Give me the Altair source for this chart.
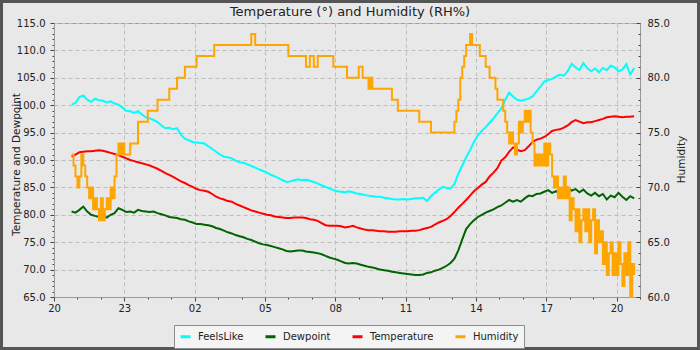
import altair as alt
import pandas as pd

series_names = ["FeelsLike", "Dewpoint", "Temperature", "Humidity"]
series_colors = ["#00ffff", "#006400", "#ff0000", "#ffa500"]

start_time = "2023-07-20 20:45"   # first sample; 10-minute samples for temps, 5-minute for humidity

feels_like = [
    100.1, 100.4, 101.5, 101.8, 101.0, 100.6, 101.2, 100.9, 100.8, 100.5,
    100.7, 100.3, 100.1, 99.6, 99.0, 98.9, 98.6, 98.9, 98.3, 97.8,
    97.6, 97.3, 96.9, 96.3, 95.8, 95.9, 95.6, 95.8, 94.6, 93.9,
    93.6, 93.3, 93.2, 93.1, 93.0, 92.5, 92.0, 91.5, 91.0, 90.6,
    90.5, 90.3, 89.9, 89.6, 89.5, 89.2, 88.9, 88.6, 88.3, 88.0,
    87.7, 87.3, 87.0, 86.7, 86.3, 86.0, 86.1, 86.3, 86.5, 86.3,
    86.4, 86.2, 86.0, 85.7, 85.4, 85.1, 84.8, 84.5, 84.3, 84.2,
    84.1, 84.3, 84.1, 83.9, 83.8, 83.6, 83.5, 83.4, 83.3, 83.3,
    83.1, 83.0, 82.9, 82.8, 82.8, 82.9, 82.8, 82.9, 83.0, 83.0,
    83.1, 82.5, 83.4, 84.0, 84.6, 85.1, 84.9, 84.8, 85.6, 87.5,
    89.0, 90.5, 91.8, 93.3, 94.5, 95.3, 96.0, 96.8, 97.6, 98.5,
    99.4, 101.0, 102.3, 101.6, 101.0, 100.8, 101.0, 101.2, 101.6, 102.5,
    103.4, 104.3, 104.6, 104.8, 105.2, 105.6, 105.4, 106.2, 107.6, 106.9,
    106.4, 107.7, 106.8, 106.2, 106.7, 106.0, 106.8, 106.4, 107.2, 106.9,
    106.2, 106.5, 107.5, 105.6, 106.8,
]

dewpoint = [
    80.6, 80.4, 80.9, 81.5, 80.6, 80.0, 79.8, 79.6, 79.7, 79.5,
    80.0, 80.3, 81.2, 80.9, 80.5, 80.6, 80.4, 80.9, 80.7, 80.6,
    80.5, 80.6, 80.3, 80.1, 79.9, 79.6, 79.5, 79.4, 79.2, 79.1,
    78.8, 78.6, 78.3, 78.3, 78.2, 78.1, 77.9, 77.6, 77.4, 77.1,
    76.8, 76.6, 76.3, 76.1, 75.9, 75.6, 75.4, 75.1, 74.8, 74.6,
    74.5, 74.3, 74.1, 73.9, 73.7, 73.4, 73.3, 73.4, 73.5, 73.5,
    73.3, 73.2, 73.1, 73.0, 72.8, 72.5, 72.2, 72.0, 71.8, 71.5,
    71.2, 71.1, 71.2, 71.1, 70.9, 70.7, 70.5, 70.4, 70.2, 70.0,
    69.9, 69.8, 69.6, 69.5, 69.4, 69.3, 69.2, 69.1, 69.0, 69.0,
    69.1, 69.4, 69.5, 69.8, 70.0, 70.3, 70.7, 71.2, 72.0, 73.5,
    75.5, 77.4, 78.3, 79.0, 79.6, 80.0, 80.4, 80.7, 81.0, 81.4,
    81.7, 82.2, 82.7, 82.4, 82.7, 82.4, 83.0, 83.5, 83.4, 83.8,
    83.9, 84.2, 84.5, 84.0, 84.3, 83.9, 84.5, 85.0, 84.4, 84.7,
    84.1, 84.6, 83.9, 83.5, 84.0, 83.4, 83.8, 82.8, 83.5, 83.2,
    84.0, 83.3, 82.7, 83.4, 83.0,
]

temperature = [
    90.6, 91.0, 91.4, 91.5, 91.6, 91.6, 91.7, 91.8, 91.7, 91.5,
    91.3, 91.1, 90.9, 90.6, 90.3, 90.0, 89.8, 89.6, 89.4, 89.2,
    89.0, 88.7, 88.4, 88.0, 87.6, 87.3, 86.9, 86.5, 86.1, 85.8,
    85.4, 85.1, 84.7, 84.5, 84.4, 84.2, 83.8, 83.3, 83.0, 82.8,
    82.5, 82.4, 82.0, 81.7, 81.4, 81.1, 80.8, 80.6, 80.4, 80.2,
    80.0, 79.9, 79.7, 79.6, 79.5, 79.4, 79.4, 79.5, 79.5, 79.5,
    79.4, 79.2, 79.1, 78.9, 78.5, 78.1, 78.0, 78.0, 78.0, 77.9,
    77.7, 77.8, 78.0, 77.7, 77.5, 77.3, 77.2, 77.2, 77.1, 77.0,
    77.0, 76.9, 76.9, 76.9, 77.0, 77.0, 77.0, 77.1, 77.1, 77.2,
    77.4, 77.6, 77.8, 78.2, 78.6, 78.9, 79.2, 79.8, 80.5, 81.3,
    82.0, 82.7, 83.5, 84.3, 84.9, 85.5, 86.0, 87.0, 87.7, 88.5,
    89.9, 90.5, 91.5, 92.3, 91.9, 91.6, 91.8, 92.5, 93.3, 93.7,
    93.9, 94.2, 94.7, 95.3, 95.5, 95.6, 95.9, 96.3, 96.9, 97.3,
    97.0, 96.7, 96.9, 96.9, 97.1, 97.3, 97.5, 97.8, 97.9, 98.0,
    97.9, 97.8, 97.9, 97.9, 98.0,
]

humidity = [
    73, 72, 71, 70, 71, 73, 72, 71, 70, 69,
    70, 68, 69, 68, 67, 69, 67, 68, 69, 68,
    70, 69, 71, 73, 74, 73, 74, 73, 73, 73,
    74, 74, 74, 74, 76, 76, 76, 76, 76, 77,
    77, 77, 77, 77, 78, 78, 78, 78, 78, 78,
    79, 79, 79, 79, 80, 80, 80, 80, 81, 81,
    81, 81, 81, 81, 82, 82, 82, 82, 82, 82,
    82, 82, 82, 83, 83, 83, 83, 83, 83, 83,
    83, 83, 83, 83, 83, 83, 83, 83, 83, 83,
    83, 83, 84, 84, 83, 83, 83, 83, 83, 83,
    83, 83, 83, 83, 83, 83, 83, 83, 83, 83,
    83, 82, 82, 82, 82, 82, 82, 82, 82, 82,
    81, 81, 82, 82, 81, 81, 82, 82, 82, 82,
    82, 82, 82, 82, 81, 81, 81, 81, 81, 81,
    81, 80, 80, 80, 80, 80, 80, 81, 81, 80,
    80, 80, 79, 80, 79, 79, 79, 79, 79, 79,
    79, 79, 79, 79, 78, 78, 78, 77, 77, 77,
    77, 77, 77, 77, 77, 77, 77, 77, 76, 76,
    76, 76, 76, 76, 75, 75, 75, 75, 75, 75,
    75, 75, 75, 75, 75, 75, 76, 77, 78, 80,
    81, 82, 83, 83, 84, 83, 83, 83, 83, 82,
    82, 82, 81, 81, 80, 80, 80, 79, 78, 78,
    78, 77, 76, 75, 74, 75, 74, 73, 74, 76,
    75, 76, 77, 76, 77, 75, 74, 72, 73, 72,
    73, 72, 74, 72, 74, 73, 71, 70, 71, 69,
    70, 69, 71, 69, 70, 67, 69, 68, 66, 68,
    65, 67, 68, 66, 68, 65, 67, 68, 64, 67,
    65, 66, 63, 65, 62, 64, 65, 62, 64, 62,
    65, 63, 61, 64, 62, 65, 60, 63, 62,
]

left_ticks = list(range(65, 116))
right_ticks = list(range(60, 86))
hour_ticks = [
    alt.DateTime(year=2023, month=7, date=20 + (20 + h) // 24, hours=(20 + h) % 24)
    for h in range(26)
]

t10 = pd.date_range(start_time, periods=len(temperature), freq="10min")
t5 = pd.date_range(start_time, periods=len(humidity), freq="5min")

temp_df = pd.concat([
    pd.DataFrame({"time": t10, "value": feels_like, "series": "FeelsLike"}),
    pd.DataFrame({"time": t10, "value": dewpoint, "series": "Dewpoint"}),
    pd.DataFrame({"time": t10, "value": temperature, "series": "Temperature"}),
], ignore_index=True)
hum_df = pd.DataFrame({"time": t5, "value": humidity, "series": "Humidity"})

FONT = "DejaVu Sans"
major5 = "datum.value % 5 === 0"

x_axis = alt.Axis(
    values=hour_ticks,
    labelExpr="hours(datum.value) % 3 === 2 ? timeFormat(datum.value, '%H') : ''",
    tickSize={"condition": {"test": "hours(datum.value) % 3 === 2", "value": 4}, "value": 2},
    gridOpacity={"condition": {"test": "hours(datum.value) % 3 === 2", "value": 1}, "value": 0},
    grid=True, gridColor="#bdbdbd", gridDash=[4, 3], gridWidth=1,
    labelOverlap=False, labelFlush=False, labelPadding=2, labelAngle=0,
    title=None,
)
x_enc = alt.X(
    "time:T",
    scale=alt.Scale(domain=[
        alt.DateTime(year=2023, month=7, date=20, hours=20),
        alt.DateTime(year=2023, month=7, date=21, hours=21),
    ]),
    axis=x_axis,
)

color_enc = alt.Color(
    "series:N",
    scale=alt.Scale(domain=series_names, range=series_colors),
    legend=alt.Legend(
        orient="none", legendX=120, legendY=302, direction="horizontal",
        title=None, symbolType="stroke", symbolStrokeWidth=3, symbolSize=100,
        labelFont=FONT, labelFontSize=10, labelColor="#222",
        fillColor="#f4f4f4", strokeColor="#8c8c8c", padding=5,
        columnPadding=15, labelOffset=6,
    ),
)

left_axis = alt.Axis(
    values=left_ticks,
    labelExpr=f"{major5} ? format(datum.value, '.1f') : ''",
    tickSize={"condition": {"test": major5, "value": 4}, "value": 2},
    gridOpacity={"condition": {"test": major5, "value": 1}, "value": 0},
    grid=True, gridColor="#bdbdbd", gridDash=[4, 3], gridWidth=1,
    labelOverlap=False, labelFlush=False, labelPadding=5,
    title="Temperature and Dewpoint", titleX=-38, titleY=141, titleAngle=270,
    titleBaseline="middle", titleAlign="center",
)

temp_lines = alt.Chart(temp_df).mark_line(strokeWidth=2).encode(
    x=x_enc,
    y=alt.Y("value:Q", scale=alt.Scale(domain=[65, 115], nice=False, zero=False), axis=left_axis),
    color=color_enc,
)

hum_scale = alt.Scale(domain=[60, 85], nice=False, zero=False)

hum_line = alt.Chart(hum_df).mark_line(strokeWidth=2, interpolate="step-after").encode(
    x=x_enc,
    y=alt.Y("value:Q", scale=hum_scale, axis=alt.Axis(
        orient="right", values=[60, 65, 70, 75, 80, 85], format=".1f",
        ticks=True, tickSize=0, labelPadding=7, grid=False,
        labelOverlap=False, labelFlush=False,
        title="Humidity", titleAngle=270, titleX=41, titleY=136,
        titleBaseline="middle", titleAlign="center",
    )),
    color=color_enc,
)

hum_ticks = alt.Chart(hum_df).mark_line(strokeOpacity=0).encode(
    x=x_enc,
    y=alt.Y("value:Q", scale=hum_scale, axis=alt.Axis(
        orient="left", offset=-586, values=right_ticks, labels=False,
        domain=False, grid=False, title=None,
        tickSize={"condition": {"test": major5, "value": 4}, "value": 2},
    )),
)

hum_layer = alt.layer(hum_line, hum_ticks)

frame = alt.Chart(pd.DataFrame({"a": [0]})).mark_rect(
    filled=False, stroke="#555555", strokeWidth=3
).encode(
    x=alt.value(-52.5), x2=alt.value(644.5), y=alt.value(-21.5), y2=alt.value(325.5)
)

chart = alt.layer(temp_lines, hum_layer, frame).resolve_scale(
    y="independent"
).properties(
    width=586, height=274,
    padding={"left": 54, "top": 23, "right": 60, "bottom": 53},
    autosize=alt.AutoSizeParams(type="none"),
    title=alt.Title(
        "Temperature (°) and Humidity (RH%)", font=FONT, fontSize=13,
        fontWeight="normal", color="#222", anchor="middle", frame="bounds",
        baseline="alphabetic", offset=-29,
    ),
    background="#e8e8e8",
).configure(
    font=FONT,
).configure_view(
    stroke="#9a9a9a", strokeWidth=1, fill="#e8e8e8",
).configure_axis(
    labelFont=FONT, labelFontSize=10, labelColor="#222",
    titleFont=FONT, titleFontSize=10.5, titleFontWeight="normal", titleColor="#222",
    domainColor="#9a9a9a", tickColor="#444",
)

chart.save("out.html", embed_options={"renderer": "svg", "actions": False})
